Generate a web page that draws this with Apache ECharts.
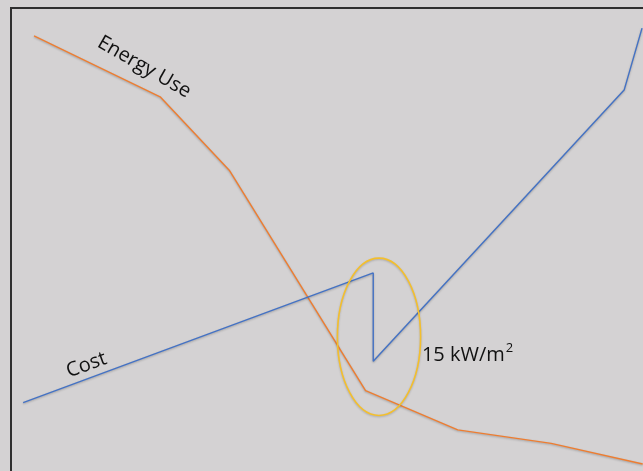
<!DOCTYPE html>
<html>
<head>
<meta charset="utf-8">
<script src="https://cdn.jsdelivr.net/npm/echarts@6/dist/echarts.min.js"></script>
<style>
  html, body { margin: 0; padding: 0; background: #d4d2d3; }
  #chart { width: 643px; height: 471px; }
</style>
</head>
<body>
<div id="chart"></div>
<script>
// Energy use falls as the design parameter rises; cost jumps at 15 kW/m²
const energyX = [3.6, 23.3, 34.1, 55.4, 69.8, 84.4, 98.7];
const energyY = [94.2, 81.5, 66.2, 20.3, 12.1, 9.3, 5.0];
const costX = [1.9, 56.6, 56.6, 95.8, 98.6];
const costY = [17.8, 44.8, 26.4, 82.9, 95.8];
const energyLabel = 'Energy Use';
const costLabel = 'Cost';
const markerText = '15 kW/m';
// highlighted region around the jump (data units)
const ringCenter = [57.5, 31.5];
const ringRadius = [6.5, 16.4];

const energyData = energyX.map((x, i) => [x, energyY[i]]);
const costData = costX.map((x, i) => [x, costY[i]]);

const chart = echarts.init(document.getElementById('chart'));
const textFont = '"Open Sans", "Noto Sans", sans-serif';

chart.setOption({
  backgroundColor: '#d4d2d3',
  animation: false,
  grid: {
    show: true, left: 11, top: 8, width: 640, height: 480,
    outerBoundsMode: 'none', containLabel: false,
    borderColor: '#2f2f2f', borderWidth: 2, backgroundColor: 'transparent'
  },
  xAxis: { type: 'value', min: 0, max: 100, show: false },
  yAxis: { type: 'value', min: 0, max: 100, show: false },
  series: [
    {
      name: energyLabel, type: 'line', data: energyData, symbol: 'none',
      lineStyle: { color: '#ed7d31', width: 1.4, shadowColor: 'rgba(0,0,0,0.25)', shadowBlur: 2, shadowOffsetY: 1 }
    },
    {
      name: costLabel, type: 'line', data: costData, symbol: 'none',
      lineStyle: { color: '#4472c4', width: 1.4, shadowColor: 'rgba(0,0,0,0.25)', shadowBlur: 2, shadowOffsetY: 1 }
    }
  ]
});

function placeAnnotations() {
  const c = chart.convertToPixel({ gridIndex: 0 }, ringCenter);
  const edge = chart.convertToPixel({ gridIndex: 0 }, [ringCenter[0] + ringRadius[0], ringCenter[1] + ringRadius[1]]);
  const rx = Math.abs(edge[0] - c[0]);
  const ry = Math.abs(edge[1] - c[1]);
  const energyPos = chart.convertToPixel({ gridIndex: 0 }, [20.8, 87.7]);
  const costPos = chart.convertToPixel({ gridIndex: 0 }, [11.8, 25.6]);
  const markPos = chart.convertToPixel({ gridIndex: 0 }, [64.2, 25.5]);

  chart.setOption({
    graphic: [
      {
        type: 'ellipse', shape: { cx: c[0], cy: c[1], rx: rx, ry: ry },
        style: { fill: 'none', stroke: '#f3bf2e', lineWidth: 1.6, shadowColor: 'rgba(0,0,0,0.2)', shadowBlur: 2, shadowOffsetY: 1 },
        z: 10
      },
      {
        type: 'text', x: energyPos[0], y: energyPos[1], rotation: -30 * Math.PI / 180,
        style: { text: energyLabel, fill: '#111', font: '20px ' + textFont, align: 'center', verticalAlign: 'middle' },
        z: 10
      },
      {
        type: 'text', x: costPos[0], y: costPos[1], rotation: 20 * Math.PI / 180,
        style: { text: costLabel, fill: '#111', font: '20px ' + textFont, align: 'center', verticalAlign: 'middle' },
        z: 10
      },
      {
        type: 'text', x: markPos[0], y: markPos[1],
        style: {
          text: '{b|' + markerText + '}{s|2}',
          align: 'left', verticalAlign: 'bottom',
          rich: {
            b: { fill: '#111', fontSize: 20, fontFamily: textFont, lineHeight: 24, verticalAlign: 'bottom' },
            s: { fill: '#111', fontSize: 13, fontFamily: textFont, lineHeight: 24, verticalAlign: 'top', padding: [0, 0, 9, 1] }
          }
        },
        z: 10
      }
    ]
  });
}
placeAnnotations();
</script>
</body>
</html>
